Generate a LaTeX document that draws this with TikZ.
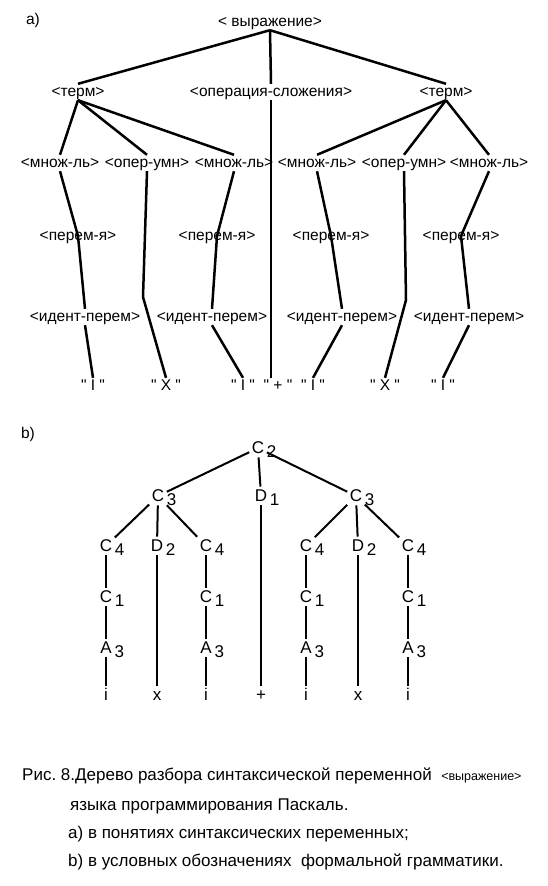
\documentclass[tikz,border=0pt]{standalone}
\usepackage{fontspec}
\setmainfont{Liberation Sans}
\frenchspacing
\newcommand{\sy}[2]{#1\rlap{\,\raisebox{-0.45ex}{#2}}}
\newcommand{\dq}{\XeTeXglyph\XeTeXcharglyph"22\relax}

\begin{document}
\begin{tikzpicture}[x=1pt,y=-1pt,
  lbl/.style={font=\fontsize{15.5}{17}\selectfont,inner sep=1pt,text height=11pt,text depth=3pt},
  sym/.style={font=\fontsize{17}{19}\selectfont,inner sep=2.5pt,text height=12.5pt,text depth=1pt},
  captxt/.style={font=\fontsize{17}{19}\selectfont,anchor=west,inner sep=0pt},
  lna/.style={line width=2.5pt},
  lnb/.style={line width=2pt}]
\useasboundingbox[fill=white] (0,0) rectangle (547,886);

% a) tree of syntactic variables
\node[lbl] (ta) at (33,20) {а)};
\node[lbl] (root) at (270,22) {< выражение>};
\node[lbl] (t1) at (78,92) {<терм>};
\node[lbl] (op) at (271,92) {<операция-сложения>};
\node[lbl] (t2) at (446,92) {<терм>};
\foreach \n/\x/\t in {m1/60/<множ-ль>,u1/147/<опер-умн>,m2/234/<множ-ль>,
                      m3/317/<множ-ль>,u2/404/<опер-умн>,m4/489/<множ-ль>}
  {\node[lbl] (\n) at (\x,163) {\t};}
\foreach \n/\x in {p1/78,p2/217,p3/331,p4/461}
  {\node[lbl] (\n) at (\x,236) {<перем-я>};}
\foreach \n/\x in {d1/85,d2/212,d3/342,d4/469}
  {\node[lbl] (\n) at (\x,317) {<идент-перем>};}
\foreach \n/\x/\t in {s1/93/I,s2/166/X,s3/243/I,s4/278/+,s5/313/I,s6/385/X,s7/443/I}
  {\node[lbl] (\n) at (\x,386) {\dq\ \t\ \dq};}
\coordinate (k1) at (143,297);
\coordinate (k2) at (406,300);

\draw[lna] (root.south) -- (t1.north);
\draw[lna] (root.south) -- (op.north);
\draw[lna] (root.south) -- (t2.north);
\draw[lna] (op.south) -- (op.south |- s4.north);
\foreach \a/\b in {t1/m1,t1/u1,t1/m2,t2/m3,t2/u2,t2/m4}
  {\draw[lna] (\a.south) -- (\b.north);}
\foreach \m/\p/\d/\s in {m1/p1/d1/s1,m2/p2/d2/s3,m3/p3/d3/s5,m4/p4/d4/s7}
  {\draw[lna] (\m.south) -- (\p.center) -- (\d.north);
   \draw[lna] (\d.south) -- (\s.north);}
\draw[lna] (u1.south) -- (k1) -- (s2.north);
\draw[lna] (u2.south) -- (k2) -- (s6.north);

% b) tree in formal grammar symbols
\node[lbl] (tb) at (28,434) {b)};
\node[sym] (c2) at (258,448) {\sy{C}{2}};
\node[sym] (c3a) at (158,496) {\sy{C}{3}};
\node[sym] (e1) at (261,496) {\sy{D}{1}};
\node[sym] (c3b) at (356,496) {\sy{C}{3}};
\foreach \i/\x/\f/\k in {1/106/C/4,2/157/D/2,3/206/C/4,5/306/C/4,6/358/D/2,7/408/C/4}
  {\node[sym] (v\i) at (\x,546) {\sy{\f}{\k}};}
\foreach \i/\x in {1/106,3/206,5/306,7/408}
  {\node[sym] (w\i) at (\x,597) {\sy{C}{1}};
   \node[sym] (a\i) at (\x,648) {\sy{A}{3}};}
\foreach \i/\x/\t in {1/106/i,2/157/x,3/206/i,4/261/+,5/306/i,6/358/x,7/408/i}
  {\node[sym] (z\i) at (\x,695) {\t};}

\draw[lnb] (c2) -- (c3a);
\draw[lnb] (c2) -- (e1);
\draw[lnb] (c2) -- (c3b);
\draw[lnb] (e1) -- (z4);
\foreach \a/\b in {c3a/v1,c3a/v2,c3a/v3,c3b/v5,c3b/v6,c3b/v7,v2/z2,v6/z6}
  {\draw[lnb] (\a) -- (\b);}
\foreach \i in {1,3,5,7}
  {\draw[lnb] (v\i) -- (w\i);
   \draw[lnb] (w\i) -- (a\i);
   \draw[lnb] (a\i) -- (z\i);}

% caption
\node[captxt] (r1) at (22,776) {Рис. 8.Дерево разбора синтаксической переменной \ {\fontsize{12.5}{15}\selectfont<выражение>}};
\node[captxt] (r2) at (70,806) {языка программирования Паскаль.};
\node[captxt] (r3) at (68,834) {а) в понятиях синтаксических переменных;};
\node[captxt] (r4) at (68,862) {b) в условных обозначениях \ формальной грамматики.};
\end{tikzpicture}
\end{document}
